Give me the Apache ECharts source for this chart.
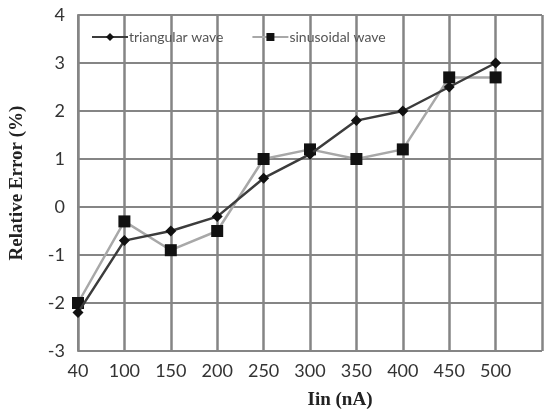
<!DOCTYPE html>
<html><head><meta charset="utf-8">
<script src="https://cdn.jsdelivr.net/npm/echarts@6/dist/echarts.min.js"></script>
<style>html,body{margin:0;padding:0;background:#fff}#c{width:545px;height:417px}</style>
</head><body><div id="c"></div>
<script>
var categories = ['40','100','150','200','250','300','350','400','450','500',''];
var triangular = [-2.2,-0.7,-0.5,-0.2,0.6,1.1,1.8,2.0,2.5,3.0,null];
var sinusoidal = [-2.0,-0.3,-0.9,-0.5,1.0,1.2,1.0,1.2,2.7,2.7,null];
var yTicks = {min:-3,max:4,interval:1};
var gridColor = '#858585';

var chart = echarts.init(document.getElementById('c'));
chart.setOption({
  animation:false,
  backgroundColor:'#fff',
  grid:{left:68,top:15,right:0,bottom:66},
  legend:{
    top:25,left:86,itemGap:28,itemWidth:36,itemHeight:10,
    textStyle:{fontFamily:'Lato',fontSize:14,color:'#555',padding:[0,0,0,-4]},
    data:['triangular wave','sinusoidal wave']
  },
  xAxis:{
    type:'category',data:categories,boundaryGap:false,
    name:'Iin (nA)',nameLocation:'middle',nameGap:40,
    nameTextStyle:{fontFamily:'Liberation Serif',fontWeight:'bold',fontSize:19,color:'#222',padding:[0,0,0,60]},
    axisLine:{lineStyle:{color:gridColor,width:2}},
    axisTick:{show:false},
    axisLabel:{fontFamily:'Lato',fontSize:18,color:'#333',margin:11,interval:0},
    splitLine:{show:true,interval:0,lineStyle:{color:gridColor,width:2.5,opacity:1}}
  },
  yAxis:{
    type:'value',min:yTicks.min,max:yTicks.max,interval:yTicks.interval,
    name:'Relative Error (%)',nameLocation:'middle',nameGap:51,
    nameTextStyle:{fontFamily:'Liberation Serif',fontWeight:'bold',fontSize:19,color:'#222'},
    axisLine:{show:true,lineStyle:{color:gridColor,width:2}},
    axisTick:{show:false},
    axisLabel:{fontFamily:'Lato',fontSize:18,color:'#333',margin:13},
    splitLine:{lineStyle:{color:gridColor,width:2}}
  },
  series:[
    {name:'triangular wave',type:'line',data:triangular,
     symbol:'diamond',symbolSize:11,
     lineStyle:{color:'#3c3c3c',width:2.5},
     itemStyle:{color:'#111',borderWidth:0},
     z:3},
    {name:'sinusoidal wave',type:'line',data:sinusoidal,
     symbol:'rect',symbolSize:12,
     lineStyle:{color:'#a8a8a8',width:2.5},
     itemStyle:{color:'#111',borderWidth:0},
     z:2}
  ]
});
</script></body></html>
